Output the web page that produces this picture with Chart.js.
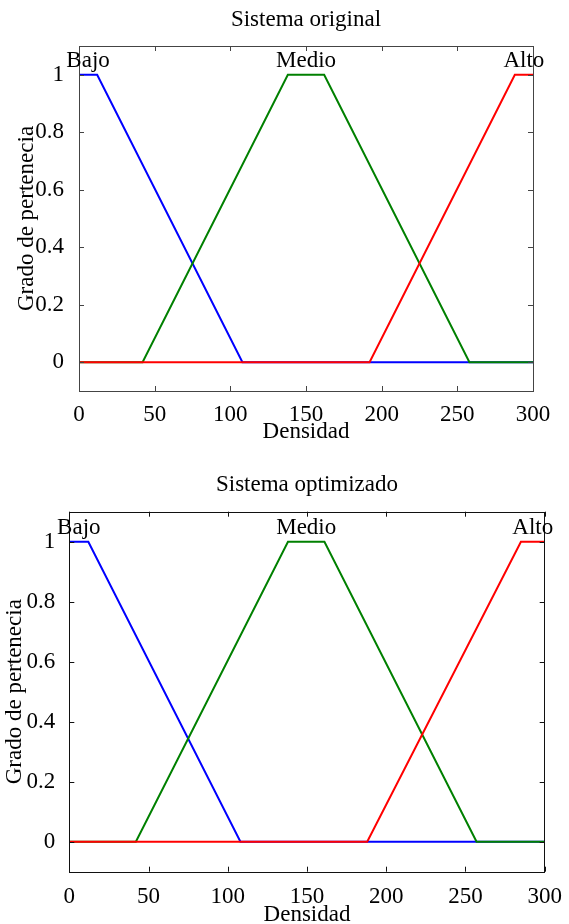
<!DOCTYPE html>
<html>
<head>
<meta charset="utf-8">
<script src="https://cdn.jsdelivr.net/npm/chart.js@4/dist/chart.umd.min.js"></script>
<style>
  html, body { margin: 0; padding: 0; background: #fff; overflow: hidden; }
  body { width: 569px; height: 924px; position: relative; }
  canvas { position: absolute; left: 0; }
  #graficoOriginal { top: 0; }
  #graficoOptimizado { top: 462px; }
</style>
</head>
<body>
<canvas id="graficoOriginal" width="569" height="462"></canvas>
<canvas id="graficoOptimizado" width="569" height="480"></canvas>
<script>
// Datos: funciones de pertenencia (puntos de quiebre de cada trapecio)
const nombresMF = ['Bajo', 'Medio', 'Alto'];
const ticksX = [0, 50, 100, 150, 200, 250, 300];
const ticksY = [0, 0.2, 0.4, 0.6, 0.8, 1];

// Sistema original
const bajoOrigX = [0, 12, 108, 300];
const bajoOrigY = [1, 1, 0, 0];
const medioOrigX = [0, 42, 138, 162, 258, 300];
const medioOrigY = [0, 0, 1, 1, 0, 0];
const altoOrigX = [0, 192, 288, 300];
const altoOrigY = [0, 0, 1, 1];

// Sistema optimizado
const bajoOptX = [0, 12, 108, 300];
const bajoOptY = [1, 1, 0, 0];
const medioOptX = [0, 42, 138, 161, 257, 300];
const medioOptY = [0, 0, 1, 1, 0, 0];
const altoOptX = [0, 188, 285, 300];
const altoOptY = [0, 0, 1, 1];

const FUENTE = 'Liberation Serif, Times New Roman, serif';
const TAM = 23;
const colores = ['#0000ff', '#008000', '#ff0000'];

function puntos(xs, ys) {
  return xs.map((x, i) => ({ x: x, y: ys[i] }));
}

// centro de la zona donde la pertenencia es máxima
function centroMeseta(xs, ys) {
  const xsMax = xs.filter((x, i) => ys[i] === 1);
  return (Math.min(...xsMax) + Math.max(...xsMax)) / 2;
}

// marco, marcas hacia adentro y etiquetas de cada función
const pluginMarco = {
  id: 'marco',
  afterDraw(chart, args, opts) {
    const { ctx, chartArea: a, scales: { x, y } } = chart;
    ctx.save();
    ctx.strokeStyle = opts.color;
    ctx.lineWidth = 1;
    ctx.beginPath();
    x.ticks.forEach(t => {
      const px = Math.round(x.getPixelForValue(t.value)) + 0.5;
      ctx.moveTo(px, a.bottom); ctx.lineTo(px, a.bottom - 5);
      ctx.moveTo(px, a.top); ctx.lineTo(px, a.top + 5);
    });
    y.ticks.forEach(t => {
      const py = Math.round(y.getPixelForValue(t.value)) + 0.5;
      ctx.moveTo(a.left, py); ctx.lineTo(a.left + 5, py);
      ctx.moveTo(a.right, py); ctx.lineTo(a.right - 5, py);
    });
    ctx.stroke();
    ctx.strokeRect(Math.round(a.left) + 0.5, Math.round(a.top) + 0.5,
      Math.round(a.right - a.left), Math.round(a.bottom - a.top));

    ctx.fillStyle = '#000';
    ctx.font = TAM + 'px ' + FUENTE;
    ctx.textAlign = 'center';
    ctx.textBaseline = 'alphabetic';
    chart.data.datasets.forEach(ds => {
      const cx = centroMeseta(ds.data.map(p => p.x), ds.data.map(p => p.y));
      ctx.fillText(ds.label, x.getPixelForValue(cx), y.getPixelForValue(1) - 7.3);
    });
    ctx.restore();
  }
};

function crearGrafico(id, titulo, series, caja) {
  return new Chart(document.getElementById(id), {
    type: 'line',
    data: {
      datasets: series.map((s, i) => ({
        label: nombresMF[i],
        data: puntos(s[0], s[1]),
        borderColor: colores[i],
        backgroundColor: colores[i],
        borderWidth: 2,
        pointRadius: 0,
        tension: 0,
        fill: false,
        order: 2 - i
      }))
    },
    options: {
      responsive: false,
      animation: false,
      layout: { padding: { top: 0, left: 0, right: caja.derecha, bottom: 0 } },
      plugins: {
        legend: { display: false },
        tooltip: { enabled: false },
        title: {
          display: true,
          fullSize: false,
          text: titulo,
          color: '#000',
          font: { family: FUENTE, size: TAM, weight: 'normal' },
          padding: { top: caja.tituloArriba, bottom: caja.tituloAbajo }
        },
        marco: { color: caja.colorMarco }
      },
      scales: {
        x: {
          type: 'linear',
          min: 0,
          max: 300,
          afterBuildTicks: s => { s.ticks = ticksX.map(v => ({ value: v })); },
          afterFit: s => { s.height = caja.altoX; },
          grid: { display: false },
          border: { display: false },
          ticks: {
            color: '#000',
            padding: caja.padTickX,
            maxRotation: 0,
            font: { family: FUENTE, size: TAM },
            callback: v => String(v)
          },
          title: {
            display: true,
            text: 'Densidad',
            color: '#000',
            font: { family: FUENTE, size: TAM },
            padding: { top: 0, bottom: caja.padTituloX }
          }
        },
        y: {
          type: 'linear',
          min: -0.1,
          max: 1.1,
          afterBuildTicks: s => { s.ticks = ticksY.map(v => ({ value: v })); },
          afterFit: s => { s.width = caja.anchoY; },
          grid: { display: false },
          border: { display: false },
          ticks: {
            color: '#000',
            padding: caja.padTickY,
            font: { family: FUENTE, size: TAM },
            callback: v => String(v)
          },
          title: {
            display: true,
            text: 'Grado de pertenecia',
            color: '#000',
            font: { family: FUENTE, size: TAM },
            padding: { top: caja.padTituloY, bottom: 0 }
          }
        }
      }
    },
    plugins: [pluginMarco]
  });
}

crearGrafico('graficoOriginal', 'Sistema original',
  [[bajoOrigX, bajoOrigY], [medioOrigX, medioOrigY], [altoOrigX, altoOrigY]],
  { derecha: 36, tituloArriba: 5.7, tituloAbajo: 12.7, altoX: 71, padTickX: 2.2,
    padTituloX: 16.5, anchoY: 79, padTickY: 7, padTituloY: 13.5, colorMarco: '#444' });

crearGrafico('graficoOptimizado', 'Sistema optimizado',
  [[bajoOptX, bajoOptY], [medioOptX, medioOptY], [altoOptX, altoOptY]],
  { derecha: 24.3, tituloArriba: 9.2, tituloAbajo: 12.9, altoX: 70.3, padTickX: 3.5,
    padTituloX: 13.7, anchoY: 69.3, padTickY: 6, padTituloY: 0.9, colorMarco: '#111' });
</script>
</body>
</html>
